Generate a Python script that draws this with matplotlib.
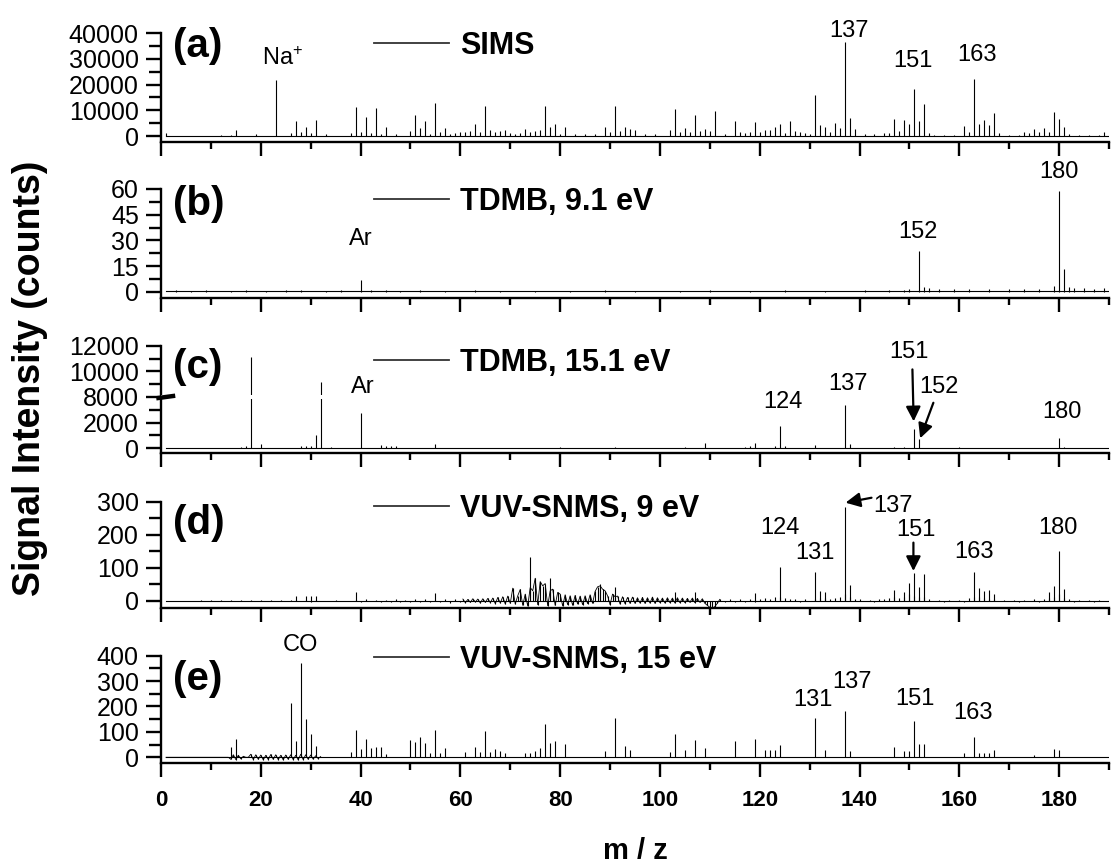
import numpy as np
import matplotlib
matplotlib.use("Agg")
import matplotlib.pyplot as plt
from matplotlib.lines import Line2D
from matplotlib.ticker import FixedLocator, MultipleLocator
import matplotlib.transforms as mtrans

plt.rcParams['font.family'] = ['Liberation Sans', 'DejaVu Sans']
plt.rcParams['mathtext.default'] = 'regular'

# ---------------- data ----------------
# (a) SIMS
a_mz = [1, 12, 14, 15, 19, 23, 26, 27, 28, 29, 30, 31, 33,
        38, 39, 40, 41, 42, 43, 44, 45, 47,
        50, 51, 52, 53, 54, 55, 56, 57, 58, 59,
        60, 61, 62, 63, 64, 65, 66, 67, 68, 69,
        70, 71, 72, 73, 74, 75, 76, 77, 78, 79,
        80, 81, 83, 85, 87, 89, 90, 91, 92, 93, 94, 95, 97, 99,
        102, 103, 104, 105, 106, 107, 108, 109, 110, 111, 113,
        115, 116, 117, 118, 119, 120, 121, 122, 123, 124,
        125, 126, 127, 128, 129, 130, 131, 132, 133, 134,
        135, 136, 137, 138, 139, 141, 143, 145, 146,
        147, 148, 149, 150, 151, 152, 153, 154, 155, 157, 159,
        161, 162, 163, 164, 165, 166, 167, 168, 170, 172,
        173, 174, 175, 176, 177, 178, 179, 180, 181,
        182, 184, 186, 188, 189]
a_int = [1300, 400, 500, 2300, 650, 21800, 1000, 6000, 1700, 3500, 1000, 6200, 650,
         1000, 11400, 1400, 7300, 1300, 10800, 800, 3500, 650,
         2000, 8200, 3200, 5700, 900, 12700, 1400, 3200, 800, 1300,
         1600, 1700, 1800, 4500, 1700, 11700, 2200, 1700, 2000, 2500,
         1300, 900, 1300, 2600, 1700, 2000, 2300, 11500, 3500, 4800,
         800, 3700, 600, 600, 600, 3700, 1500, 11700, 1900, 3700, 2800, 2500, 600, 600,
         2400, 10600, 1700, 3200, 1700, 8000, 1900, 2800, 1900, 9700, 600,
         5700, 1500, 1200, 1500, 5600, 1500, 2500, 2500, 3400, 4500,
         1200, 5800, 1900, 1500, 1100, 800, 15800, 4100, 3700, 1500,
         5000, 3000, 36600, 6900, 2800, 600, 600, 1000, 1300,
         6500, 2100, 6100, 4500, 18400, 5800, 12300, 1100, 500, 500, 500,
         3800, 1500, 22300, 4800, 6100, 4400, 8800, 1100, 500, 500,
         1500, 1100, 2900, 1700, 3000, 1700, 9300, 6500, 3700,
         600, 500, 500, 500, 1500]

# (b) TDMB, 9.1 eV
b_mz = [40, 150, 152, 153, 154, 179, 180, 181, 182, 183]
b_int = [7, 1.5, 24, 3, 2, 3.5, 59, 13, 3, 2]
b_small_mz = [3, 6, 9, 14, 17, 21, 25, 28, 33, 36, 42, 45, 48, 52, 57, 63, 68, 75,
              82, 89, 95, 104, 110, 118, 125, 133, 141, 146, 149, 156, 159, 162,
              166, 170, 173, 176, 185, 187, 189]
b_small_int = [0.8, 0.7, 0.9, 0.6, 0.8, 0.7, 0.9, 1.0, 0.7, 0.8, 0.9, 1.1, 0.7, 0.8, 0.7,
               0.8, 0.6, 0.7, 0.7, 0.8, 0.6, 0.7, 0.8, 0.7, 0.8, 0.7, 0.9, 0.8, 1.2, 1.8,
               1.5, 1.6, 1.4, 1.7, 1.5, 1.6, 2.0, 1.8, 1.9]

# (c) TDMB, 15.1 eV (broken axis 4000-8000)
c_mz = [14, 16, 17, 18, 20, 28, 29, 30, 31, 32, 34, 40, 44, 45, 46, 47, 55,
        80, 91, 105, 109, 117, 118, 119, 123, 124, 125, 131, 137, 138,
        147, 149, 151, 152, 160, 180, 181]
c_int = [60, 80, 150, 11100, 310, 190, 200, 200, 1040, 9200, 100, 2730, 240, 190, 190, 190, 320,
         110, 110, 100, 420, 100, 150, 420, 150, 1710, 150, 260, 3380, 340,
         140, 80, 1530, 730, 80, 830, 80]

# (d) VUV-SNMS, 9 eV
d_mz = [27, 29, 30, 31, 39, 55, 74, 78, 88, 91, 103, 107, 119, 124,
        131, 132, 133, 137, 138, 147, 149, 150, 151, 152, 153,
        163, 164, 165, 166, 167, 178, 179, 180, 181]
d_int = [15, 14, 15, 14, 27, 24, 133, 68, 50, 42, 27, 25, 24, 103,
         87, 30, 25, 285, 47, 33, 25, 54, 85, 43, 81,
         87, 40, 30, 33, 21, 25, 45, 152, 35]
# noise spikes of (d), three sampling grids
d_noise1 = [0, 0, 0, 0, 0, 0, 0,
            1, -1, 2, -2, 1, -1, 2, -1, 1, -2, 2, -1, 1, -1, 2, -2, 1, -1, 2,
            3, -2, 3, -3, 2, -1,
            0, 0, 1, 0, -1, 0,
            2, -3, 4, -2, 3, -4, 2, -3, 5, -4, 3, -5, 4, -3, 5, -4, 3, -5, 4, -6, 5, -4]
d_noise2 = [5, -6, 4, -5, 6, -4, 5, -7, 6, -5, 7, -6,
            8, -9, 10, -7, 12, -10, 14, -8, 38, -10, 15, 34,
            -14, 20, -16, 40, 30, 68, -12, 58, 45, 52, -15, 30,
            35, -14, 25, 20, -16, 18, -12, 15, -14, 16, -10, 14,
            -12, 15, -9, 18, -8, 28, 42, 45, 35, 30, 15, -12,
            20, 12, 14, -10, 12, -9, 10, -8, 11, -8, 9, -7,
            10, -8, 9, -7, 11, -8, 9, -6, 8, -7, 9, -6,
            8, -7, 9, -6, 8, -6, 7, -5, 8, -6, 7, -5,
            6, -8, -14, -20, -23, -18, -8, 4]
d_noise3 = [-3, 4, -3, 5, -4, 6, -4, 5, 8, 6, 10,
            10, 8, 5, 4, -3, 5, -2, 6, 8, 7, 6, 9, 10,
            20, 12, 6, 4, -2, 3, -3, 4, 5, 8, 10, 8, 10, 20,
            15, 10, 10, 5, -2, 3, -3, 2, -2, 3, -3, 8,
            12, 10, 8, 6, 5, -2, 3, -2, 2, -3, 3, -2, 4,
            -3, 5, 8, 10, 20, 8, 5, -3, 3, -2, 2, -3, 2, -2, 3]
d_grid1 = np.arange(1, 61, 1.0)
d_grid2 = np.arange(60.5, 112.1, 0.5)
d_grid3 = np.arange(113, 191, 1.0)

# (e) VUV-SNMS, 15 eV
e_mz = [14, 15, 26, 27, 28, 29, 30, 31,
        38, 39, 40, 41, 42, 43, 44, 45,
        50, 51, 52, 53, 54, 55, 56, 57,
        61, 63, 64, 65, 66, 67, 68, 69,
        73, 74, 75, 76, 77, 78, 79, 81, 89, 91, 93, 94,
        102, 103, 105, 107, 109, 115, 119, 121, 122, 123, 124,
        131, 133, 137, 138, 147, 149, 150, 151, 152, 153,
        161, 163, 164, 165, 166, 167, 175, 179, 180]
e_int = [39, 72, 215, 64, 370, 150, 92, 45,
         20, 108, 33, 71, 37, 39, 39, 12,
         68, 62, 81, 56, 16, 108, 16, 37,
         22, 42, 22, 105, 20, 34, 25, 16,
         16, 18, 24, 37, 133, 56, 66, 52, 26, 156, 43, 30,
         20, 93, 30, 68, 37, 63, 72, 30, 30, 30, 50,
         153, 30, 181, 24, 39, 26, 26, 142, 54, 54,
         17, 81, 18, 18, 18, 30, 8, 34, 30]
e_noise = [0] * 26 + [-8, 10, -9, 8, -6, 4, 0, 0,
                      12, -9, 10, -8, 9, -10, 8, -9, 11, -8, 10, -9, 8, -10, 9,
                      -8, 10, -9, 8, -10, 12, -9, 10, -8, 9, -7, 6, -5, 3]
e_grid = np.arange(1, 32.1, 0.5)

# ---------------- figure ----------------
fig = plt.figure(figsize=(11.12, 8.67), dpi=100)
W, H = 1112.0, 867.0
left_px, right_px = 161.0, 1109.0
boxes = [(33.3, 141.7), (189.0, 297.7), (345.7, 453.3), (501.7, 607.5), (655.7, 762.7)]
axes = []
for top, bot in boxes:
    axes.append(fig.add_axes([left_px / W, 1 - bot / H, (right_px - left_px) / W, (bot - top) / H]))
ax_a, ax_b, ax_c, ax_d, ax_e = axes

LW = 0.8
K = 'black'


def brk_fwd(y):
    y = np.asarray(y, dtype=float)
    return np.where(y <= 4000, y, np.where(y >= 8000, y - 4000, 4000.0))


def brk_inv(y):
    y = np.asarray(y, dtype=float)
    return np.where(y <= 4000, y, y + 4000)


ax_c.set_yscale('function', functions=(brk_fwd, brk_inv))


def style(ax, ylim, major, minor, bottom_labels=False):
    ax.set_xlim(0, 190)
    ax.set_ylim(*ylim)
    for s in ['top', 'right']:
        ax.spines[s].set_visible(False)
    for s in ['left', 'bottom']:
        ax.spines[s].set_linewidth(1.7)
    ax.xaxis.set_major_locator(MultipleLocator(20))
    ax.xaxis.set_minor_locator(MultipleLocator(10))
    ax.yaxis.set_major_locator(FixedLocator(major))
    ax.yaxis.set_minor_locator(FixedLocator(minor))
    ax.tick_params(axis='x', which='major', direction='out', length=10, width=1.7,
                   pad=10, labelsize=16)
    ax.tick_params(axis='x', which='minor', direction='out', length=5, width=1.7)
    ax.tick_params(axis='y', which='major', direction='out', length=11, width=1.7,
                   pad=5, labelsize=18)
    ax.tick_params(axis='y', which='minor', direction='out', length=9, width=1.7)
    if bottom_labels:
        for lbl in ax.get_xticklabels():
            lbl.set_fontweight('bold')
    else:
        ax.tick_params(axis='x', labelbottom=False)


def header(ax, tag, name, ytag, yleg):
    ax.text(0.0127, ytag, tag, transform=ax.transAxes, ha='left', va='center',
            fontsize=29, fontweight='bold')
    h = Line2D([], [], color='#333333', lw=1.3)
    ax.legend([h], [name], loc='center left', bbox_to_anchor=(0.225, yleg),
              frameon=False, handlelength=2.45, handletextpad=0.35,
              borderpad=0, borderaxespad=0,
              prop={'weight': 'bold', 'size': 22})


fs = 17

# (a)
ax_a.plot([1, 190], [0, 0], color=K, lw=LW)
ax_a.vlines(a_mz, 0, a_int, color=K, lw=LW)
style(ax_a, (-2220, 40000), [0, 10000, 20000, 30000, 40000], [5000, 15000, 25000, 35000])
header(ax_a, '(a)', 'SIMS', 0.88, 0.884)
ax_a.text(24.3, 25700, 'Na$^{+}$', ha='center', va='bottom', fontsize=fs)
ax_a.text(137.8, 36800, '137', ha='center', va='bottom', fontsize=fs)
ax_a.text(150.8, 24800, '151', ha='center', va='bottom', fontsize=fs)
ax_a.text(163.5, 27400, '163', ha='center', va='bottom', fontsize=fs)

# (b)
ax_b.plot([1, 190], [0.3, 0.3], color=K, lw=LW)
ax_b.vlines(b_small_mz, 0, b_small_int, color=K, lw=LW)
ax_b.vlines(b_mz, 0, b_int, color=K, lw=LW)
style(ax_b, (-3.5, 60), [0, 15, 30, 45, 60], [7.5, 22.5, 37.5, 52.5])
header(ax_b, '(b)', 'TDMB, 9.1 eV', 0.86, 0.883)
ax_b.text(40.0, 24.4, 'Ar', ha='center', va='bottom', fontsize=fs)
ax_b.text(151.8, 28.3, '152', ha='center', va='bottom', fontsize=fs)
ax_b.text(180.0, 63.4, '180', ha='center', va='bottom', fontsize=fs)

# (c)
ax_c.plot([1, 190], [0, 0], color=K, lw=LW)
ax_c.vlines(c_mz, 0, c_int, color=K, lw=LW)
style(ax_c, (-390, 12000), [0, 2000, 8000, 10000, 12000], [1000, 3000, 9000, 11000])
ax_c.axhspan(3880, 8120, color='white', lw=0, zorder=3)
brk = mtrans.blended_transform_factory(ax_c.transAxes, ax_c.transData)
ax_c.plot([-0.005, 0.015], [3900, 8100], transform=brk, color=K, lw=3.2,
          clip_on=False, zorder=5, solid_capstyle='butt')
header(ax_c, '(c)', 'TDMB, 15.1 eV', 0.805, 0.842)
ax_c.text(40.4, 3900, 'Ar', ha='center', va='bottom', fontsize=fs, zorder=6)
ax_c.text(124.7, 2730, '124', ha='center', va='bottom', fontsize=fs)
ax_c.text(137.6, 8160, '137', ha='center', va='bottom', fontsize=fs)
ax_c.text(149.9, 10620, '151', ha='center', va='bottom', fontsize=fs)
ax_c.text(155.9, 3900, '152', ha='center', va='bottom', fontsize=fs, zorder=6)
ax_c.text(180.6, 1950, '180', ha='center', va='bottom', fontsize=fs)
arrow = dict(arrowstyle='-|>', color=K, lw=1.6, mutation_scale=22, shrinkA=0, shrinkB=0)
ax_c.annotate('', xy=(150.85, 2100), xytext=(150.6, 10150), arrowprops=arrow, zorder=6)
ax_c.annotate('', xy=(152.15, 780), xytext=(154.8, 3550), arrowprops=arrow, zorder=6)

# (d)  noise drawn as spikes about the baseline
ax_d.plot([1, 190], [0, 0], color=K, lw=LW)
ax_d.vlines(d_grid1, 0, d_noise1, color=K, lw=LW)
ax_d.vlines(d_grid2, 0, d_noise2, color=K, lw=LW)
ax_d.vlines(d_grid3, 0, d_noise3, color=K, lw=LW)
ax_d.plot(d_grid2, d_noise2, color=K, lw=0.6)
ax_d.vlines(d_mz, 0, d_int, color=K, lw=LW)
style(ax_d, (-20.6, 300), [0, 100, 200, 300], [50, 150, 250])
header(ax_d, '(d)', 'VUV-SNMS, 9 eV', 0.80, 0.934)
ax_d.text(124.0, 186, '124', ha='center', va='bottom', fontsize=fs)
ax_d.text(131.1, 110, '131', ha='center', va='bottom', fontsize=fs)
ax_d.text(142.8, 287, '137', ha='left', va='center', fontsize=fs)
ax_d.text(151.4, 181, '151', ha='center', va='bottom', fontsize=fs)
ax_d.text(162.9, 115, '163', ha='center', va='bottom', fontsize=fs)
ax_d.text(179.8, 186, '180', ha='center', va='bottom', fontsize=fs)
ax_d.annotate('', xy=(137.2, 297), xytext=(142.4, 312), arrowprops=arrow)
ax_d.annotate('', xy=(150.8, 90), xytext=(150.8, 176), arrowprops=arrow)

# (e)
ax_e.plot([1, 190], [0, 0], color=K, lw=LW)
ax_e.vlines(e_grid, 0, e_noise, color=K, lw=LW)
ax_e.plot(e_grid, e_noise, color=K, lw=0.6)
ax_e.vlines(e_mz, 0, e_int, color=K, lw=LW)
style(ax_e, (-21.3, 400), [0, 100, 200, 300, 400], [50, 150, 250, 350], bottom_labels=True)
header(ax_e, '(e)', 'VUV-SNMS, 15 eV', 0.784, 0.96)
ax_e.text(28.0, 399, 'CO', ha='center', va='bottom', fontsize=fs)
ax_e.text(130.7, 184, '131', ha='center', va='bottom', fontsize=fs)
ax_e.text(138.5, 253, '137', ha='center', va='bottom', fontsize=fs)
ax_e.text(151.2, 188, '151', ha='center', va='bottom', fontsize=fs)
ax_e.text(162.8, 131, '163', ha='center', va='bottom', fontsize=fs)

fig.text(29.6 / W, 1 - 378 / H, 'Signal Intensity (counts)', rotation=90,
         ha='center', va='center', fontsize=27, fontweight='bold')
fig.text(635 / W, 1 - 851 / H, 'm / z', ha='center', va='center',
         fontsize=21, fontweight='bold')

fig.savefig('out.png', dpi=100)
